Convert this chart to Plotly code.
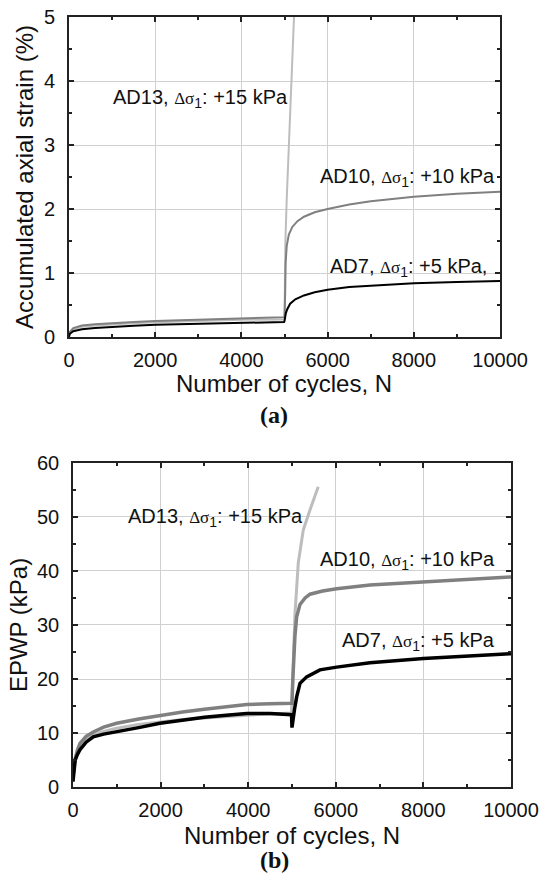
import plotly.graph_objects as go

# ---------------- data: (a) accumulated axial strain (%) ----------------
a_ad7_n = [0, 20, 100, 300, 600, 1000, 1500, 2000, 3000, 4000, 4990, 5000, 5010, 5030, 5060, 5130, 5250, 5450, 5700, 6000, 6500, 7000, 8000, 9000, 10000]
a_ad7_s = [0.0, 0.05, 0.09, 0.12, 0.14, 0.16, 0.175, 0.19, 0.205, 0.22, 0.235, 0.25, 0.31, 0.37, 0.43, 0.52, 0.59, 0.65, 0.70, 0.74, 0.78, 0.80, 0.84, 0.86, 0.875]

a_ad10_n = [0, 20, 100, 300, 600, 1000, 1500, 2000, 3000, 4000, 4990, 5000, 5015, 5025, 5050, 5100, 5180, 5300, 5450, 5700, 6000, 6500, 7000, 8000, 9000, 10000]
a_ad10_s = [0.02, 0.08, 0.14, 0.18, 0.2, 0.22, 0.235, 0.25, 0.27, 0.29, 0.30, 0.31, 0.7, 1.15, 1.42, 1.6, 1.72, 1.81, 1.88, 1.95, 2.0, 2.07, 2.12, 2.19, 2.24, 2.27]

a_ad13_n = [0, 20, 100, 300, 600, 1000, 1500, 2000, 3000, 4000, 4990, 5000, 5020, 5050, 5135, 5220, 5240]
a_ad13_s = [0.01, 0.07, 0.12, 0.16, 0.18, 0.2, 0.215, 0.23, 0.25, 0.27, 0.275, 0.28, 1.5, 2.14, 3.57, 5.0, 5.34]

# ---------------- data: (b) EPWP (kPa) ----------------
b_ad7_n = [0, 20, 50, 100, 160, 300, 464, 700, 997, 1500, 1986, 2500, 3000, 3500, 3966, 4500, 4990, 5000, 5020, 5060, 5107, 5183, 5335, 5639, 6020, 6781, 8000, 9000, 10000]
b_ad7_p = [1.0, 3.5, 5.0, 6.0, 6.9, 8.3, 9.3, 9.8, 10.2, 11.0, 11.8, 12.4, 12.9, 13.3, 13.6, 13.6, 13.4, 11.0, 12.5, 14.5, 16.7, 19.2, 20.4, 21.7, 22.2, 23.0, 23.8, 24.2, 24.7]

b_ad10_n = [0, 20, 46, 100, 160, 300, 464, 700, 997, 1500, 1986, 2500, 3000, 3500, 3966, 4500, 4990, 5000, 5020, 5040, 5068, 5107, 5183, 5300, 5411, 5700, 6020, 6781, 8000, 9000, 10000]
b_ad10_p = [2.0, 4.0, 5.0, 6.8, 8.1, 9.4, 10.2, 11.1, 11.8, 12.6, 13.3, 13.9, 14.4, 14.9, 15.3, 15.4, 15.5, 15.5, 20.0, 24.5, 28.0, 31.5, 33.8, 35.0, 35.7, 36.3, 36.7, 37.4, 38.0, 38.5, 38.9]

b_ad13_n = [0, 20, 50, 100, 160, 300, 464, 700, 997, 1500, 1986, 2500, 3000, 3500, 3966, 4500, 4990, 5010, 5030, 5068, 5144, 5258, 5411, 5600]
b_ad13_p = [1.5, 4.0, 5.5, 6.6, 7.8, 8.9, 9.6, 10.3, 10.9, 11.6, 12.1, 12.5, 12.8, 13.1, 13.3, 13.5, 13.7, 18.0, 24.0, 32.0, 41.5, 47.6, 51.3, 55.6]

C7, C10, C13 = "#000000", "#808080", "#bdbdbd"
FONT = "Liberation Sans, Arial, sans-serif"
SERIF = "Liberation Serif, Times New Roman, serif"

fig = go.Figure()
# panel (a)
fig.add_trace(go.Scatter(x=a_ad13_n, y=a_ad13_s, mode="lines", line=dict(color=C13, width=2), xaxis="x", yaxis="y"))
fig.add_trace(go.Scatter(x=a_ad10_n, y=a_ad10_s, mode="lines", line=dict(color=C10, width=2), xaxis="x", yaxis="y"))
fig.add_trace(go.Scatter(x=a_ad7_n, y=a_ad7_s, mode="lines", line=dict(color=C7, width=2), xaxis="x", yaxis="y"))
# panel (b)
fig.add_trace(go.Scatter(x=b_ad13_n, y=b_ad13_p, mode="lines", line=dict(color=C13, width=3), xaxis="x2", yaxis="y2"))
fig.add_trace(go.Scatter(x=b_ad10_n, y=b_ad10_p, mode="lines", line=dict(color=C10, width=3.5), xaxis="x2", yaxis="y2"))
fig.add_trace(go.Scatter(x=b_ad7_n, y=b_ad7_p, mode="lines", line=dict(color=C7, width=3.5), xaxis="x2", yaxis="y2"))

axis_common = dict(
    showline=True, linecolor="#222", linewidth=1.5, mirror="ticks",
    ticks="inside", ticklen=5, tickwidth=1.5, tickcolor="#222",
    showgrid=True, gridcolor="#d0d0d0", gridwidth=1, zeroline=False,
    tickfont=dict(family=FONT, size=20, color="#111"),
    ticklabelstandoff=8, automargin=False,
)

def xax(domain, anchor):
    return dict(axis_common, domain=domain, anchor=anchor, range=[0, 10000], tick0=0, dtick=2000,
                tickformat="d", ticklabelstandoff=4,
                minor=dict(ticks="inside", ticklen=3, tickwidth=1.5, tickcolor="#222", dtick=1000, showgrid=False))

fig.update_layout(
    width=543, height=874, margin=dict(l=0, r=0, t=0, b=0, autoexpand=False),
    paper_bgcolor="white", plot_bgcolor="white", showlegend=False,
    xaxis=xax([0.127, 0.921], "y"),
    yaxis=dict(axis_common, domain=[0.6144, 0.9805], anchor="x", range=[0, 5], dtick=1,
               minor=dict(ticks="inside", ticklen=3, tickwidth=1.5, tickcolor="#222", dtick=0.5, showgrid=False),
               title=dict(text="Accumulated axial strain (%)", font=dict(family=FONT, size=24, color="#111"), standoff=4)),
    xaxis2=xax([0.1344, 0.941], "y2"),
    yaxis2=dict(axis_common, domain=[0.0995, 0.4703], anchor="x2", range=[0, 60], dtick=10,
                minor=dict(ticks="inside", ticklen=3, tickwidth=1.5, tickcolor="#222", dtick=5, showgrid=False),
                title=dict(text="EPWP (kPa)", font=dict(family=FONT, size=24, color="#111"), standoff=3)),
)

def lab(tag, inc):
    return (f"{tag}, <span style='font-family:Liberation Serif;font-size:17px'>Δσ</span>"
            f"<sub>1</sub>: {inc}")

ann = [
    dict(x=974, y=3.73, xref="x", yref="y", text=lab("AD13", "+15 kPa")),
    dict(x=5777, y=2.5, xref="x", yref="y", text=lab("AD10", "+10 kPa")),
    dict(x=6009, y=1.09, xref="x", yref="y", text=lab("AD7", "+5 kPa,")),
    dict(x=1210, y=49.9, xref="x2", yref="y2", text=lab("AD13", "+15 kPa")),
    dict(x=5594, y=42.0, xref="x2", yref="y2", text=lab("AD10", "+10 kPa")),
    dict(x=6096, y=26.9, xref="x2", yref="y2", text=lab("AD7", "+5 kPa")),
]
for a in ann:
    a.update(showarrow=False, xanchor="left", yanchor="middle",
             font=dict(family=FONT, size=20, color="#111"))
    fig.add_annotation(**a)

# x-axis titles (placed as paper annotations for exact positioning)
for xc, yc in [(284, 384), (292, 835)]:
    fig.add_annotation(text="Number of cycles, N", x=xc / 543, y=1 - yc / 874, xref="paper", yref="paper",
                       showarrow=False, xanchor="center", yanchor="middle",
                       font=dict(family=FONT, size=24, color="#111"))

# panel labels
fig.add_annotation(text="<b>(a)</b>", x=274 / 543, y=1 - 415 / 874, xref="paper", yref="paper",
                   showarrow=False, xanchor="center", yanchor="middle",
                   font=dict(family=SERIF, size=24, color="#111"))
fig.add_annotation(text="<b>(b)</b>", x=274 / 543, y=0, xref="paper", yref="paper",
                   showarrow=False, xanchor="center", yanchor="bottom", yshift=-1,
                   font=dict(family=SERIF, size=24, color="#111"))

fig.write_html("out.html")
